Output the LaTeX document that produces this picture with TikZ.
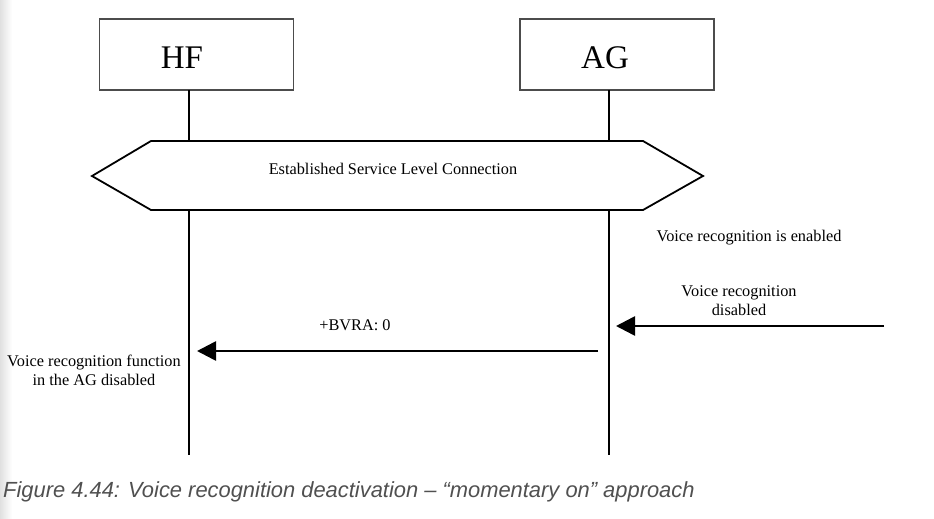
\documentclass[tikz,border=0pt]{standalone}
\usepackage{fontspec}
\setmainfont{Liberation Serif}
\newfontfamily\capfont{Liberation Sans}
\usetikzlibrary{arrows.meta}
\definecolor{capgray}{RGB}{80,80,80}
\begin{document}
\begin{tikzpicture}[x=1pt,y=-1pt,
  entity/.style={draw=black!70,line width=1.3pt,minimum width=194pt,minimum height=71pt,inner sep=0pt},
  title/.style={font=\fontsize{33}{36}\selectfont,inner sep=0pt,anchor=base},
  life/.style={line width=2pt},
  hexa/.style={line width=1.8pt,line join=miter},
  msg/.style={line width=2.6pt,-{Triangle[length=19pt,width=19pt]}},
  lbl/.style={font=\fontsize{16.3}{19}\selectfont,align=center,inner sep=0pt}]
\useasboundingbox (0,0) rectangle (934,519);
\shade[left color=black!12,right color=white,draw=none] (0,0) rectangle (12,519);
% entities
\node[entity] (hf) at (196.5,54.5) {};
\node[entity] (ag) at (617,54.5) {};
\node[title] (hft) at (182,68) {HF};
\node[title] (agt) at (605,68) {AG};
% lifeline anchor points
\coordinate (hf0) at (189,90);
\coordinate (hf1) at (189,141);
\coordinate (hf2) at (189,210);
\coordinate (hf3) at (189,455);
\coordinate (ag0) at (609,90);
\coordinate (ag1) at (609,141);
\coordinate (ag2) at (609,210);
\coordinate (ag3) at (609,455);
\draw[life] (hf0) -- (hf1);
\draw[life] (hf2) -- (hf3);
\draw[life] (ag0) -- (ag1);
\draw[life] (ag2) -- (ag3);
% service level connection hexagon
\coordinate (h1) at (92,176);
\coordinate (h2) at (151,141);
\coordinate (h3) at (643,141);
\coordinate (h4) at (703,176);
\coordinate (h5) at (643,210);
\coordinate (h6) at (151,210);
\draw[hexa] (h1) -- (h2) -- (h3) -- (h4) -- (h5) -- (h6) -- cycle;
\node[lbl] (slc) at (393,169) {Established Service Level Connection};
% notes
\node[lbl] (en) at (749,238) {Voice recognition is enabled};
\node[lbl] (dis) at (739,301) {Voice recognition\\disabled};
\node[lbl] (bvra) at (355,325) {+BVRA: 0};
\node[lbl] (fn) at (94,370) {Voice recognition function\\in the AG disabled};
% messages
\coordinate (ext) at (884,326);
\coordinate (agin) at (616,326);
\coordinate (agout) at (598,351);
\coordinate (hfin) at (197,351);
\draw[msg] (ext) -- (agin);
\draw[msg] (agout) -- (hfin);
% caption
\node[font=\capfont\itshape\fontsize{21.9}{26}\selectfont,text=capgray,anchor=base west,inner sep=0pt] (cap) at (3,497.5)
  {Figure 4.44: Voice recognition deactivation – “momentary on” approach};
\end{tikzpicture}
\end{document}
